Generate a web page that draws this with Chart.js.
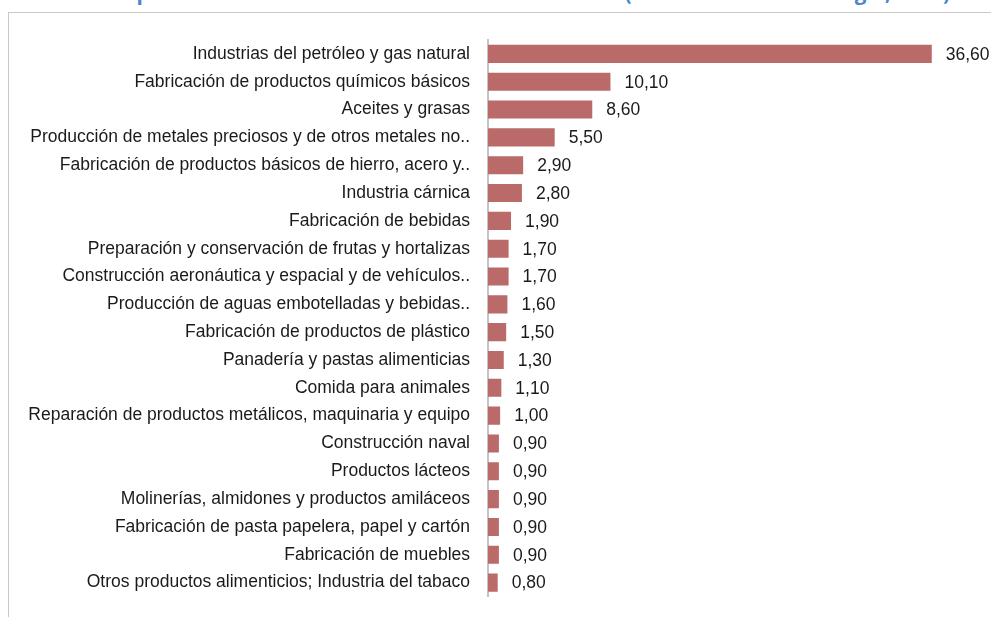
<!DOCTYPE html>
<html>
<head>
<meta charset="utf-8">
<script src="https://cdn.jsdelivr.net/npm/chart.js@4/dist/chart.umd.min.js"></script>
<style>
  html, body { margin: 0; padding: 0; background: #fff; overflow: hidden; }
  #wrap { position: relative; width: 991px; height: 617px; overflow: hidden; }
  #frame { position: absolute; left: 8px; top: 12px; width: 1000px; height: 700px;
           border-left: 1px solid #c8c8c8; border-top: 1px solid #c8c8c8; }
  #title { position: absolute; left: 70px; top: -22px; white-space: nowrap;
           font: bold 20.5px "Open Sans", "Liberation Sans", sans-serif; color: #4a86c8; }
  #c { position: absolute; left: 0; top: 0; }
</style>
</head>
<body>
<div id="wrap">
  <div id="title">Participación de las ramas industriales en el consumo (en % del total de energía, 2014)</div>
  <div id="frame"></div>
  <canvas id="c" width="991" height="617"></canvas>
</div>
<script>
const categories = [
  "Industrias del petróleo y gas natural",
  "Fabricación de productos químicos básicos",
  "Aceites y grasas",
  "Producción de metales preciosos y de otros metales no..",
  "Fabricación de productos básicos de hierro, acero y..",
  "Industria cárnica",
  "Fabricación de bebidas",
  "Preparación y conservación de frutas y hortalizas",
  "Construcción aeronáutica y espacial y de vehículos..",
  "Producción de aguas embotelladas y bebidas..",
  "Fabricación de productos de plástico",
  "Panadería y pastas alimenticias",
  "Comida para animales",
  "Reparación de productos metálicos, maquinaria y equipo",
  "Construcción naval",
  "Productos lácteos",
  "Molinerías, almidones y productos amiláceos",
  "Fabricación de pasta papelera, papel y cartón",
  "Fabricación de muebles",
  "Otros productos alimenticios; Industria del tabaco"
];
const values = [36.6, 10.1, 8.6, 5.5, 2.9, 2.8, 1.9, 1.7, 1.7, 1.6, 1.5, 1.3, 1.1, 1.0, 0.9, 0.9, 0.9, 0.9, 0.9, 0.8];

const valueLabels = {
  id: 'valueLabels',
  afterDatasetsDraw(chart) {
    const ctx = chart.ctx;
    const meta = chart.getDatasetMeta(0);
    ctx.save();
    ctx.font = '17.5px "Liberation Sans", Arial, sans-serif';
    ctx.fillStyle = '#1a1a1a';
    ctx.textAlign = 'left';
    ctx.textBaseline = 'middle';
    meta.data.forEach((bar, i) => {
      const txt = values[i].toFixed(2).replace('.', ',');
      ctx.fillText(txt, bar.x + 14, bar.y + 1);
    });
    ctx.restore();
  }
};

new Chart(document.getElementById('c'), {
  type: 'bar',
  data: {
    labels: categories,
    datasets: [{
      data: values,
      backgroundColor: '#bb6a6a',
      borderWidth: 0,
      categoryPercentage: 0.65,
      barPercentage: 1.0
    }]
  },
  options: {
    indexAxis: 'y',
    responsive: false,
    animation: false,
    layout: { padding: { top: 40, bottom: 20, left: 0, right: 18 } },
    plugins: { legend: { display: false }, tooltip: { enabled: false }, title: { display: false } },
    scales: {
      x: { display: false, min: 0, max: 40 },
      y: {
        afterFit(scale) { scale.width = 488; },
        grid: { display: false },
        border: { display: true, color: '#c4c4c4', width: 2 },
        ticks: {
          color: '#1a1a1a',
          padding: 10,
          autoSkip: false,
          font: { family: '"Liberation Sans", Arial, sans-serif', size: 17.5 }
        }
      }
    }
  },
  plugins: [valueLabels]
});
</script>
</body>
</html>
